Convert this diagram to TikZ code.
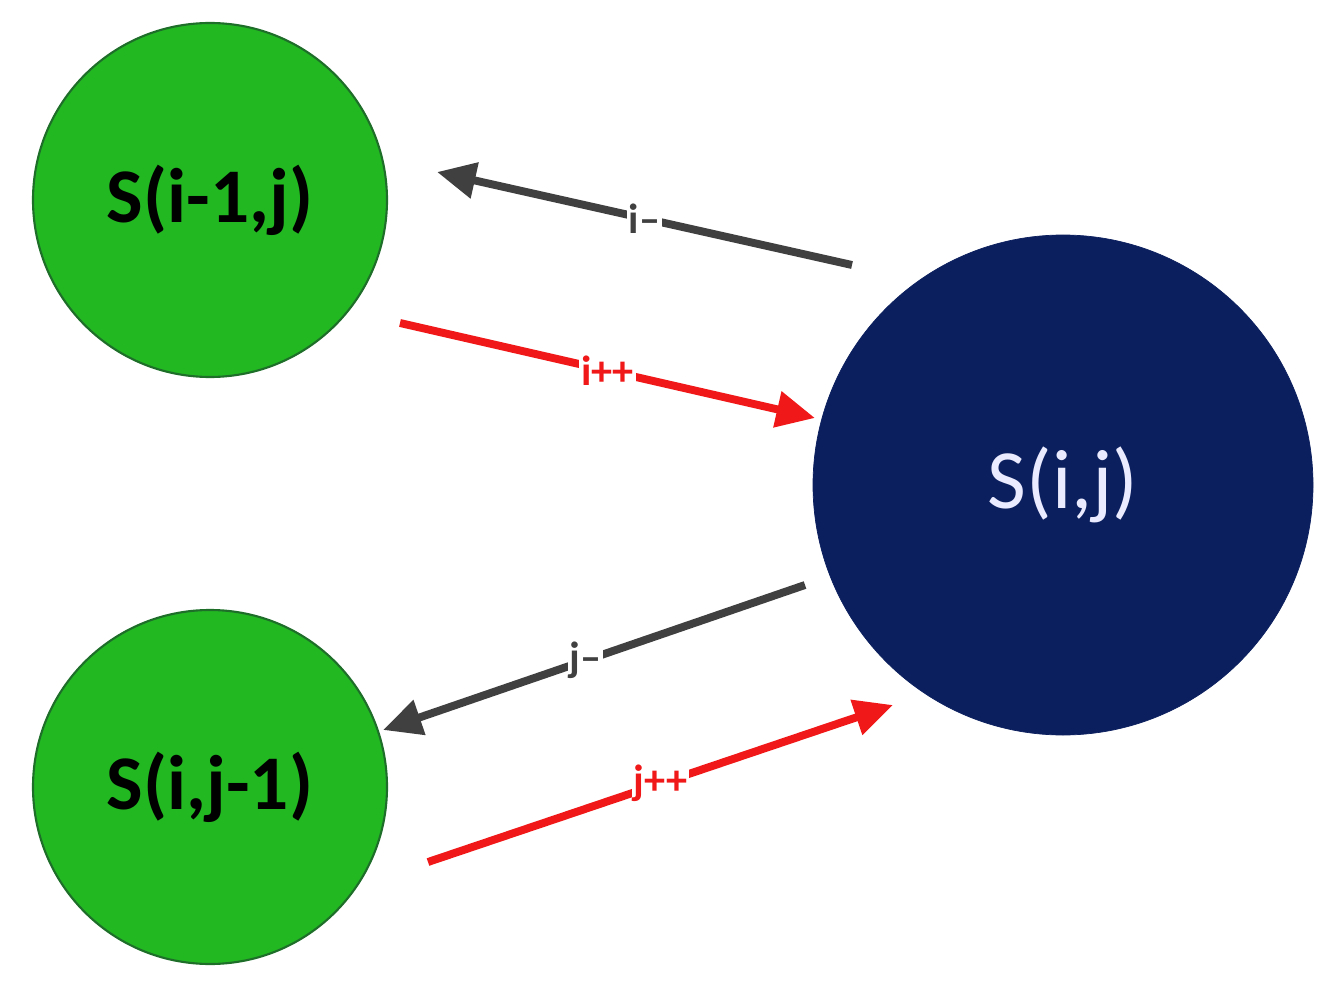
\documentclass[tikz,border=0pt]{standalone}
\usepackage{fontspec}
\setmainfont{Carlito}
\usetikzlibrary{arrows.meta}
\definecolor{gfill}{HTML}{22B822}
\definecolor{gdraw}{HTML}{1E6E2A}
\definecolor{navy}{HTML}{0B1F5E}
\definecolor{darkg}{HTML}{404040}
\definecolor{redc}{HTML}{F01818}
\begin{document}
\begin{tikzpicture}[x=0.02cm,y=-0.02cm,
  small/.style={circle,fill=gfill,draw=gdraw,line width=1.2pt,minimum size=354*0.02cm,inner sep=0pt,font=\fontsize{44}{50}\selectfont\bfseries},
  big/.style={circle,fill=navy,draw=navy,minimum size=500*0.02cm,inner sep=0pt,text=white!92!blue,font=\fontsize{48}{54}\selectfont},
  arr/.style={line width=4.5pt,-{Triangle[length=22pt,width=20pt]}},
  lab/.style={fill=white,inner sep=1pt,font=\fontsize{24}{28}\selectfont\bfseries}]
\useasboundingbox (0,0) rectangle (1335,993);
\node[small] (a) at (210,200) {S(i-1,j)};
\node[small] (b) at (210,787) {S(i,j-1)};
\node[big] (c) at (1063,485) {S(i,j)};
\coordinate (p1) at (852,265); \coordinate (q1) at (437,172);
\coordinate (p2) at (400,323); \coordinate (q2) at (815,418);
\coordinate (p3) at (805,585); \coordinate (q3) at (383,730);
\coordinate (p4) at (428,862); \coordinate (q4) at (893,705);
\draw[arr,darkg] (p1) -- node[lab,pos=0.5]{i--} (q1);
\draw[arr,redc] (p2) -- node[lab,pos=0.5]{i++} (q2);
\draw[arr,darkg] (p3) -- node[lab,pos=0.52]{j--} (q3);
\draw[arr,redc] (p4) -- node[lab,pos=0.5]{j++} (q4);
\end{tikzpicture}
\end{document}
